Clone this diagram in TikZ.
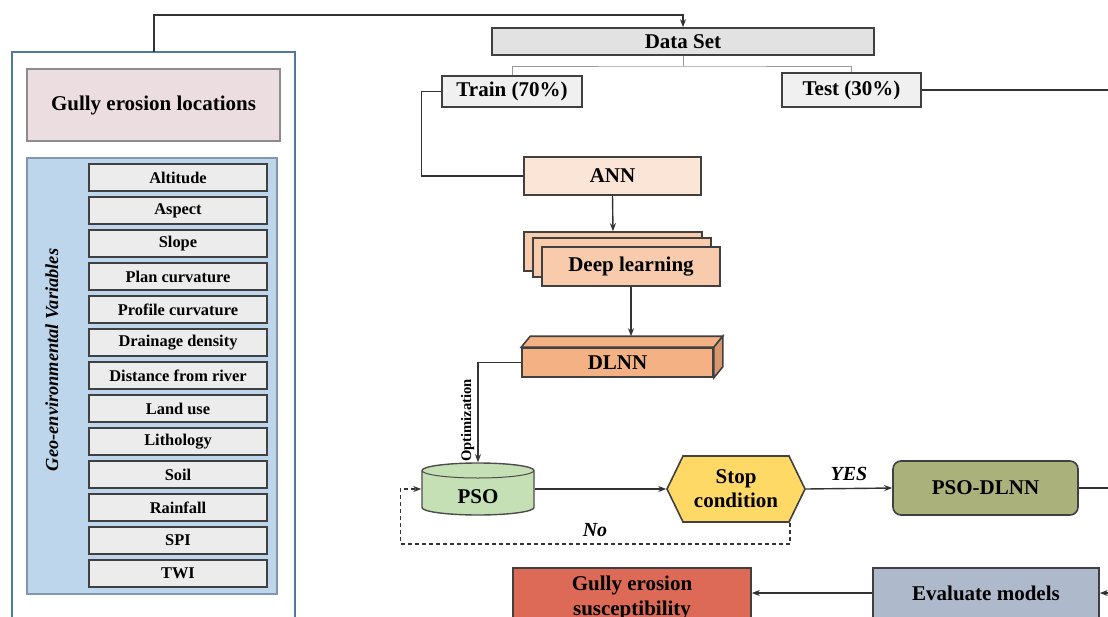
\documentclass[tikz,border=0pt]{standalone}
\usepackage{fontspec}
\setmainfont{Liberation Serif}
\usetikzlibrary{arrows.meta}

\definecolor{outerblue}{RGB}{80,120,160}
\definecolor{locfill}{RGB}{236,222,224}
\definecolor{panelblue}{RGB}{190,214,236}
\definecolor{panelline}{RGB}{130,150,175}
\definecolor{varfill}{RGB}{236,236,236}
\definecolor{dsfill}{RGB}{226,226,226}
\definecolor{ttfill}{RGB}{240,240,240}
\definecolor{annfill}{RGB}{251,229,214}
\definecolor{dlfill}{RGB}{248,203,173}
\definecolor{dlnnfill}{RGB}{244,177,131}
\definecolor{dlnnside}{RGB}{215,150,110}
\definecolor{psofill}{RGB}{197,224,180}
\definecolor{stopfill}{RGB}{255,217,102}
\definecolor{psodlnnfill}{RGB}{170,177,122}
\definecolor{evalfill}{RGB}{174,186,204}
\definecolor{gsusfill}{RGB}{220,106,86}

\begin{document}
\begin{tikzpicture}[x=0.5pt,y=-0.5pt,>={Stealth[length=4pt,width=3pt]},
    box/.style={draw=black!75,line width=0.8pt,inner sep=0pt,align=center,
      font=\fontsize{10.5}{12}\selectfont\bfseries},
    varbox/.style={box,fill=varfill,minimum width=89pt,minimum height=13.5pt,
      font=\fontsize{8.2}{9}\selectfont\bfseries},
    link/.style={draw=black!80,line width=0.7pt},
    branch/.style={draw=black!40,line width=0.5pt},
    lbl/.style={font=\fontsize{10}{12}\selectfont\bfseries\itshape}]

      \useasboundingbox (0,0) rectangle (1108,616);
      \clip (0,0) rectangle (1108,616);

      \draw[outerblue,line width=1.2pt] (12,52) rectangle (295,650);
      \coordinate (outtop) at (154,52);

      \node[box,draw=black!45,fill=locfill,minimum width=126.5pt,minimum height=36pt] (loc) at (153.5,105) {Gully erosion locations};

      \draw[panelline,fill=panelblue,line width=0.8pt] (27,158) rectangle (277,594);
      \node[rotate=90,font=\fontsize{9.2}{10}\selectfont\bfseries\itshape] (geo) at (52,360) {Geo-environmental Variables};

      \foreach \i/\name in {1/Altitude,2/Aspect,3/Slope,4/Plan curvature,5/Profile curvature,
          6/Drainage density,7/Distance from river,8/Land use,9/Lithology,10/Soil,
          11/Rainfall,12/SPI,13/TWI}
        \node[varbox] (v\i) at (178,{177.5+33*(\i-1)}) {\name};

      \node[box,fill=dsfill,minimum width=191pt,minimum height=13.5pt] (ds) at (683,41.5) {Data Set};
      \node[box,fill=ttfill,minimum width=70pt,minimum height=15.5pt] (train) at (512,91.5) {Train (70\%)};
      \node[box,fill=ttfill,minimum width=69.5pt,minimum height=17pt] (test) at (851.5,90) {Test (30\%)};
      \coordinate (split) at (683,66);
      \coordinate (testout) at (1115,90);

      \node[box,fill=annfill,minimum width=88.5pt,minimum height=19pt] (ann) at (612.5,176) {ANN};
      \node[box,fill=dlfill,minimum width=89pt,minimum height=19.5pt] (dl1) at (613,251.5) {};
      \node[box,fill=dlfill,minimum width=89pt,minimum height=19.5pt] (dl2) at (622,257.5) {};
      \node[box,fill=dlfill,minimum width=89pt,minimum height=19.5pt] (dl3) at (631,266.5) {Deep learning};

      \node[box,fill=dlnnfill,minimum width=95.5pt,minimum height=14.5pt] (dlnn) at (617.5,362.5) {DLNN};
      \draw[black!75,line width=0.8pt,fill=dlnnfill] (dlnn.north west) -- ++(9,-11)
        -- ([shift={(9,-11)}]dlnn.north east) -- (dlnn.north east) -- cycle;
      \draw[black!75,line width=0.8pt,fill=dlnnside] (dlnn.north east) -- ++(9,-11)
        -- ([shift={(9,-11)}]dlnn.south east) -- (dlnn.south east) -- cycle;
      \coordinate (dlnntop) at ([yshift=5.5pt]dlnn.north);

      \draw[black!70,line width=0.7pt,fill=psofill] (422,470.5) -- (422,507.5)
        arc[start angle=180,end angle=360,x radius=28pt,y radius=3.75pt] -- (534,470.5)
        arc[start angle=0,end angle=180,x radius=28pt,y radius=3.75pt] -- cycle;
      \draw[black!70,line width=0.5pt] (422,470.5) arc[start angle=180,end angle=360,x radius=28pt,y radius=3.75pt];
      \node[box,draw=none,minimum width=56pt,minimum height=26pt,text height=14pt,text depth=0pt] (pso) at (478,489) {PSO};

      \draw[black!75,line width=0.8pt,fill=stopfill] (667,489) -- (683,456) -- (789,456)
        -- (805,489) -- (789,522) -- (683,522) -- cycle;
      \node[box,draw=none,minimum width=69pt,minimum height=33pt] (stop) at (736,489) {Stop\\condition};

      \node[box,fill=psodlnnfill,rounded corners=4pt,minimum width=92.5pt,minimum height=27pt] (psodlnn) at (985.5,488) {PSO-DLNN};
      \coordinate (psoout) at (1115,488);

      \node[box,fill=evalfill,minimum width=113pt,minimum height=25pt] (eval) at (986,593) {Evaluate models};
      \node[box,fill=gsusfill,minimum width=119pt,minimum height=30pt,font=\fontsize{10.5}{12.5}\selectfont\bfseries] (gsus) at (632,598) {Gully erosion\\susceptibility};
      \coordinate (evalout) at (1115,593);

      \draw[link,line width=0.9pt,->] (outtop) |- ([yshift=6pt]ds.north) -- (ds.north);
      \draw[branch] (ds.south) -- (split);
      \draw[branch] (train.north) |- (split) -| (test.north);
      \draw[link] (test.east) -- (testout);
      \draw[link] (train.west) -- ++(-20,0) |- (ann.west);
      \draw[link,->] (ann.south) -- (dl1.north);
      \draw[link,->] (dl3.south) -- (dl3.south |- dlnntop);
      \draw[link,->] (dlnn.west) -| node[pos=0.79,rotate=90,above,inner sep=1.5pt,font=\fontsize{7.3}{8}\selectfont\bfseries] {Optimization} (pso.north);
      \draw[link,->] (pso.east) -- (stop.west);
      \draw[link,->] (stop.east) -- node[above,lbl] {YES} (psodlnn.west);
      \draw[link] (psodlnn.east) -- (psoout);
      \draw[link,dashed,dash pattern=on 2pt off 1.5pt,->] ([xshift=-8pt]stop.south east) -- ++(0,21)
        -| node[pos=0.25,above,lbl] {No} ([xshift=-10.5pt]pso.west) -- (pso.west);
      \draw[link,->] (evalout) -- (eval.east);
      \draw[link,->] (eval.west) -- (eval.west -| gsus.east);
    \end{tikzpicture}
\end{document}
